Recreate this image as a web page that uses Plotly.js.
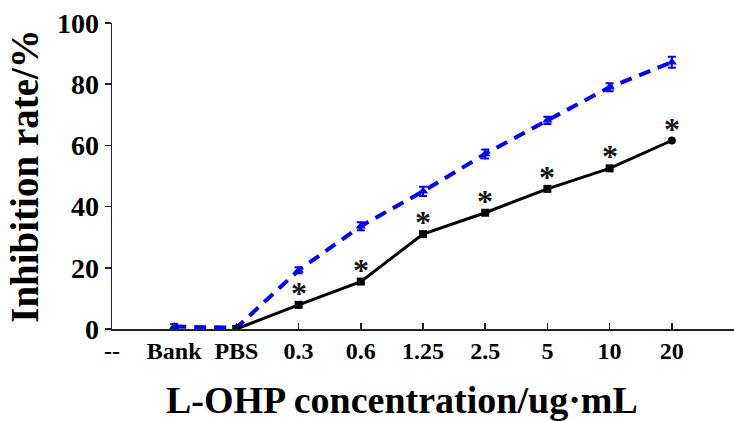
<!DOCTYPE html>
<html>
<head>
<meta charset="utf-8">
<script src="https://cdn.plot.ly/plotly-3.0.1.min.js"></script>
<style>html,body{margin:0;padding:0;background:#fff;}#chart{width:734px;height:421px;}</style>
</head>
<body>
<div id="chart"></div>
<script>
const categories = ["--", "Bank", "PBS", "0.3", "0.6", "1.25", "2.5", "5", "10", "20", "--"];
const blueCats = ["Bank", "PBS", "0.3", "0.6", "1.25", "2.5", "5", "10", "20"];
const blueValues = [0.8, 0.4, 19.2, 33.6, 45.0, 57.2, 68.2, 79.0, 87.2];
const blueErrors = [0.8, 0.6, 1.0, 1.3, 1.5, 1.5, 1.2, 1.3, 1.8];
const blackCats = ["PBS", "0.3", "0.6", "1.25", "2.5", "5", "10", "20"];
const blackValues = [0.0, 7.9, 15.5, 31.0, 38.0, 45.8, 52.5, 61.6];
const starCats = ["0.3", "0.6", "1.25", "2.5", "5", "10", "20"];
const starValues = [7.9, 15.5, 31.0, 38.0, 45.8, 52.5, 61.6];

const idx = c => categories.indexOf(c);
const font = "'Liberation Serif', 'Times New Roman', serif";

const traces = [
  {
    x: blueCats.map(idx), y: blueValues, type: "scatter", mode: "lines+markers",
    line: {color: "#0000ff", width: 4, dash: "12px,8px"},
    marker: {symbol: "triangle-up", size: 9, color: "#0000ff"},
    error_y: {type: "data", array: blueErrors, color: "#0000ff", thickness: 2, width: 4},
    showlegend: false, hoverinfo: "skip"
  },
  {
    x: blackCats.map(idx), y: blackValues, type: "scatter", mode: "lines+markers",
    line: {color: "#000000", width: 3},
    marker: {symbol: blackCats.map((c, i) => i === blackCats.length - 1 ? "circle" : "square"), size: 8, color: "#000000"},
    showlegend: false, hoverinfo: "skip"
  }
];

const annotations = starCats.map((c, i) => ({
  x: idx(c), y: starValues[i], xref: "x", yref: "y", text: "<b>*</b>",
  showarrow: false, xanchor: "center", yanchor: "bottom", yshift: -8,
  font: {family: font, size: 32, color: "#111"}
}));
annotations.push({
  xref: "paper", yref: "paper", x: (402 - 112) / 622, y: -0.232, xanchor: "center", yanchor: "middle",
  text: "<b>L-OHP concentration/ug·mL</b>", showarrow: false,
  font: {family: font, size: 38, color: "#000"}
});

const layout = {
  width: 734, height: 421,
  margin: {l: 112, r: 0, t: 23, b: 92},
  paper_bgcolor: "#ffffff", plot_bgcolor: "#ffffff",
  xaxis: {
    range: [0, 10], tickvals: categories.map((c, i) => i), ticktext: categories,
    showgrid: false, zeroline: false, showline: true, linecolor: "#222", linewidth: 1.5,
    ticks: "inside", ticklen: 6, tickwidth: 1.5, tickcolor: "#222",
    tickfont: {family: font, size: 24, color: "#000", weight: "bold"}
  },
  yaxis: {
    range: [0, 100], tickvals: [0, 20, 40, 60, 80, 100],
    showgrid: false, zeroline: false, showline: true, linecolor: "#222", linewidth: 1.5,
    ticks: "outside", ticklen: 6, tickwidth: 1.5, tickcolor: "#222",
    tickfont: {family: font, size: 28, color: "#000", weight: "bold"},
    title: {text: "<b>Inhibition rate/%</b>", font: {family: font, size: 39, color: "#000"}, standoff: 6}
  },
  annotations: annotations,
  showlegend: false
};

Plotly.newPlot("chart", traces, layout, {staticPlot: true, displayModeBar: false});
</script>
</body>
</html>
